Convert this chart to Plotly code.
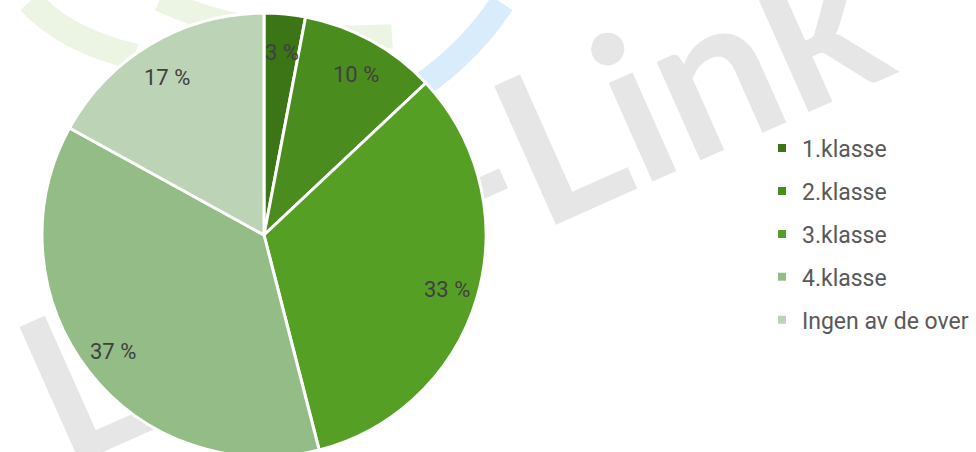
import math
import plotly.graph_objects as go

# ---- data ----
categories = ["1.klasse", "2.klasse", "3.klasse", "4.klasse", "Ingen av de over"]
percent_values = [3, 10, 33, 37, 17]
slice_colors = ["#3b7516", "#4b8c1e", "#55a024", "#94bc86", "#bdd3b6"]

W, H = 976, 457          # page window is 452 high; the pie runs a little past the bottom
MT = 13
cx_px = 264
R_px = (H - MT) / 2.0
cy_px = MT + R_px

fig = go.Figure()

fig.add_trace(go.Pie(
    labels=categories,
    values=percent_values,
    sort=False,
    direction="clockwise",
    rotation=0,
    marker=dict(colors=slice_colors, line=dict(color="white", width=3)),
    textinfo="none",
    hoverinfo="label+percent",
    showlegend=False,
    domain=dict(x=[(cx_px - R_px) / W, (cx_px + R_px) / W], y=[0, 1]),
))

# legend entries (one group each so the gap between them can be set)
for name, col in zip(categories, slice_colors):
    fig.add_trace(go.Scatter(
        x=[None], y=[None], mode="markers", name=name, legendgroup=name,
        marker=dict(symbol="square", size=8, color=col),
        showlegend=True, hoverinfo="skip",
    ))

# data labels placed at the middle angle of each slice
total = sum(percent_values)
cum = 0
annotations = []
for v in percent_values:
    mid = (cum + v / 2) / total * 2 * math.pi
    cum += v
    d = 0.86 * R_px
    px = cx_px + d * math.sin(mid)
    py = cy_px - d * math.cos(mid) - 4
    annotations.append(dict(
        x=px / W, y=1 - py / H, xref="paper", yref="paper",
        text=f"{v} %", showarrow=False,
        font=dict(family="Roboto", size=22, color="#404040"),
        xanchor="center", yanchor="middle",
    ))


def P(x, y):
    return f"{x / W:.5f},{1 - y / H:.5f}"


shapes = [
    # faint logo arcs at the top (background decoration)
    dict(type="path", xref="paper", yref="paper", layer="below",
         path=f"M {P(400, 88)} Q {P(462, 52)} {P(502, -10)}",
         line=dict(color="#d8ecfb", width=25)),
    dict(type="path", xref="paper", yref="paper", layer="below",
         path=f"M {P(30, -12)} Q {P(65, 28)} {P(135, 45)}",
         line=dict(color="#ecf5e3", width=26)),
    dict(type="path", xref="paper", yref="paper", layer="below",
         path=f"M {P(160, -14)} Q {P(255, 32)} {P(392, 24)}",
         line=dict(color="#ecf5e3", width=24)),
    # watermark text
    dict(type="rect", xref="paper", yref="paper", layer="below",
         x0=(650 - 5) / W, x1=(650 + 5) / W, y0=1 - (80 + 5) / H, y1=1 - (80 - 5) / H,
         line=dict(width=0), fillcolor="rgba(0,0,0,0)",
         label=dict(text="-Link", textangle=-24, textposition="middle center",
                    font=dict(family="Lato", size=210, color="#e6e6e6", weight="bold"))),
    dict(type="rect", xref="paper", yref="paper", layer="below",
         x0=(80 - 5) / W, x1=(80 + 5) / W, y0=1 - (370 + 5) / H, y1=1 - (370 - 5) / H,
         line=dict(width=0), fillcolor="rgba(0,0,0,0)",
         label=dict(text="L", textangle=-24, textposition="middle center",
                    font=dict(family="Lato", size=205, color="#e6e6e6", weight="bold"))),
]

fig.update_layout(
    width=W, height=H,
    margin=dict(l=0, r=0, t=MT, b=0, autoexpand=False),
    paper_bgcolor="white", plot_bgcolor="rgba(0,0,0,0)",
    xaxis=dict(visible=False), yaxis=dict(visible=False),
    showlegend=True,
    legend=dict(
        x=762 / W, y=1 - 117 / H, xanchor="left", yanchor="top",
        traceorder="grouped", tracegroupgap=10,
        font=dict(family="Roboto", size=23, color="#595959"),
        bgcolor="rgba(0,0,0,0)", itemclick=False, itemdoubleclick=False,
    ),
    annotations=annotations,
    shapes=shapes,
)

fig.write_html(
    "out.html",
    config={"displayModeBar": False},
    post_script="document.body.style.margin='0px';document.body.style.overflow='hidden';",
)
